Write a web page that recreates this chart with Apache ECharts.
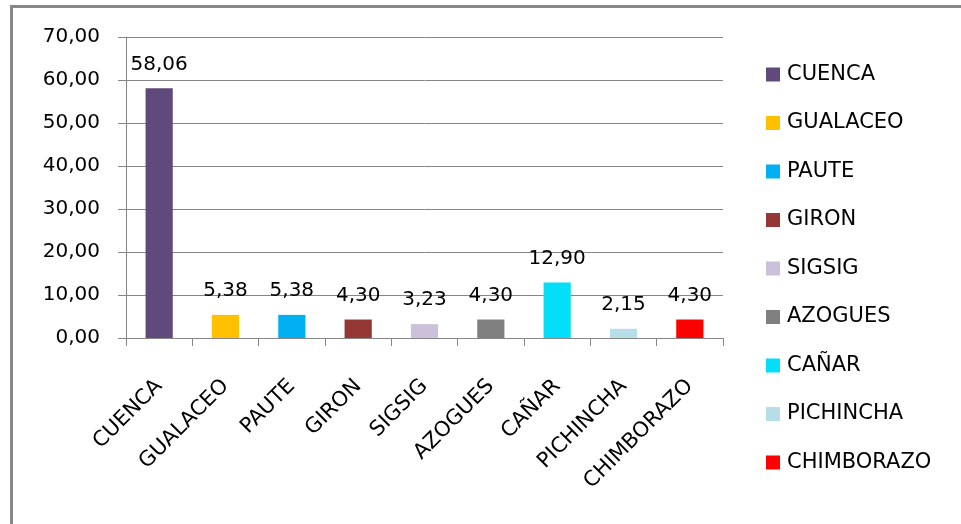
<!DOCTYPE html>
<html>
<head>
<meta charset="utf-8">
<script src="https://cdn.jsdelivr.net/npm/echarts@6/dist/echarts.min.js"></script>
<style>
  html, body { margin: 0; padding: 0; background: #fff; }
  #chart { width: 961px; height: 524px; }
</style>
</head>
<body>
<div id="chart"></div>
<script>
// categories and their values (percent)
const categories = ['CUENCA', 'GUALACEO', 'PAUTE', 'GIRON', 'SIGSIG', 'AZOGUES', 'CAÑAR', 'PICHINCHA', 'CHIMBORAZO']
const values = [58.06, 5.38, 5.38, 4.30, 3.23, 4.30, 12.90, 2.15, 4.30]
const colors = ['#604A7B', '#FFC000', '#00B0F0', '#953735', '#CCC1DA', '#808080', '#05DEF8', '#B7DEE8', '#FF0000']
const yTicks = [0, 10, 20, 30, 40, 50, 60, 70]

const FONT = 'DejaVu Sans'
const fmt = v => Number(v).toFixed(2).replace('.', ',')

const chart = echarts.init(document.getElementById('chart'))

// one series per category so each gets a legend entry; stacked so bars stay centered
const series = categories.map((name, i) => ({
  name,
  type: 'bar',
  stack: 'all',
  barWidth: '41%',
  itemStyle: { color: colors[i] },
  label: {
    show: true,
    position: 'top',
    distance: 14,
    color: '#000',
    fontFamily: FONT,
    fontSize: 20,
    formatter: p => fmt(p.value)
  },
  data: categories.map((c, j) => (j === i ? values[i] : '-'))
}))

chart.setOption({
  animation: false,
  backgroundColor: '#fff',
  textStyle: { fontFamily: FONT },
  grid: { left: 126, top: 37, right: 238, bottom: 186 },
  legend: {
    orient: 'vertical',
    left: 761,
    top: 59,
    icon: 'rect',
    itemWidth: 14,
    itemHeight: 14,
    itemGap: 27.5,
    data: categories,
    textStyle: { color: '#000', fontFamily: FONT, fontSize: 21, lineHeight: 20, padding: [0, 0, 0, 2] }
  },
  xAxis: {
    type: 'category',
    data: categories,
    axisLine: { lineStyle: { color: '#868686', width: 1 } },
    axisTick: { show: true, length: 8, lineStyle: { color: '#868686' } },
    axisLabel: {
      interval: 0,
      rotate: 45,
      margin: 45,
      color: '#000',
      fontFamily: FONT,
      fontSize: 21
    }
  },
  yAxis: {
    type: 'value',
    min: yTicks[0],
    max: yTicks[yTicks.length - 1],
    interval: 10,
    axisLine: { show: true, lineStyle: { color: '#868686' } },
    axisTick: { show: true, length: 8, lineStyle: { color: '#868686' } },
    splitLine: { lineStyle: { color: '#868686', width: 1 } },
    axisLabel: {
      margin: 26,
      color: '#000',
      fontFamily: FONT,
      fontSize: 20,
      formatter: v => fmt(v)
    }
  },
  // chart-area border: only top and left edges are visible in the picture
  graphic: [
    { type: 'line', shape: { x1: 10, y1: 6.5, x2: 961, y2: 6.5 }, style: { stroke: '#888', lineWidth: 3 } },
    { type: 'line', shape: { x1: 11.5, y1: 5, x2: 11.5, y2: 524 }, style: { stroke: '#888', lineWidth: 3 } }
  ],
  series
})
</script>
</body>
</html>
